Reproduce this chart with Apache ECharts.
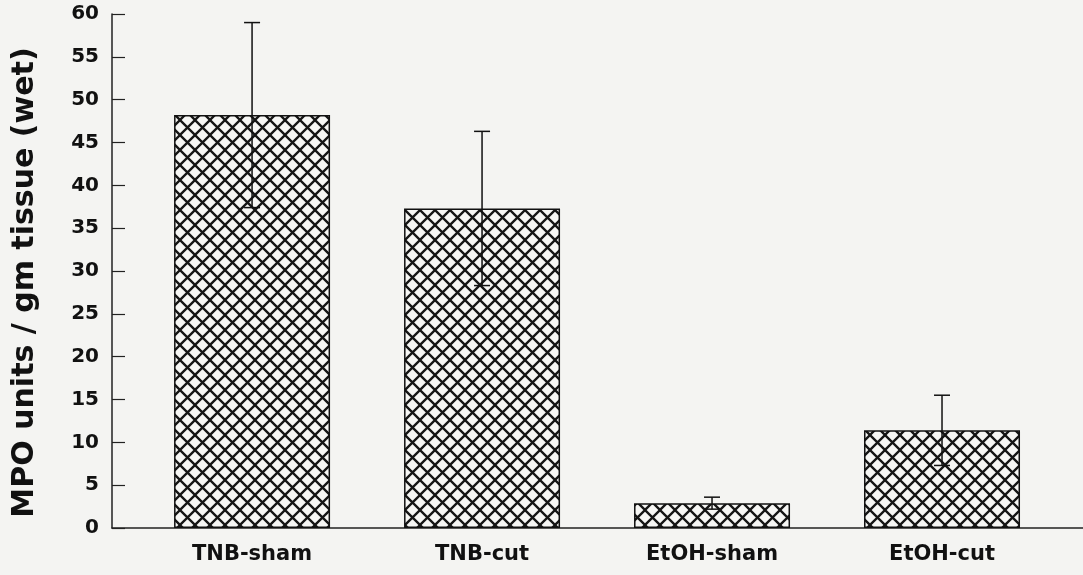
<!DOCTYPE html>
<html>
<head>
<meta charset="utf-8">
<script src="https://cdn.jsdelivr.net/npm/echarts@6/dist/echarts.min.js"></script>
<style>
html,body{margin:0;padding:0;background:#f4f4f2;}
#chart{width:1083px;height:575px;}
</style>
</head>
<body>
<div id="chart"></div>
<script>
const categories = ['TNB-sham', 'TNB-cut', 'EtOH-sham', 'EtOH-cut'];
const means = [48.2, 37.3, 2.9, 11.4];
const errors = [10.8, 9.0, 0.7, 4.1];
const yTicks = [0, 5, 10, 15, 20, 25, 30, 35, 40, 45, 50, 55, 60];

const positions = categories.map((c, i) => i + 1);

function makeHatch() {
  const s = 15;
  const cv = document.createElement('canvas');
  cv.width = s; cv.height = s;
  const ctx = cv.getContext('2d');
  ctx.fillStyle = '#f6f6f4';
  ctx.fillRect(0, 0, s, s);
  ctx.strokeStyle = '#151515';
  ctx.lineWidth = 2.3;
  for (let k = -1; k <= 1; k++) {
    ctx.beginPath();
    ctx.moveTo(k * s, 0); ctx.lineTo(k * s + s, s);
    ctx.moveTo(k * s + s, 0); ctx.lineTo(k * s, s);
    ctx.stroke();
  }
  return cv;
}

const chart = echarts.init(document.getElementById('chart'), null, {renderer: 'canvas'});
const font = 'DejaVu Sans';
chart.setOption({
  backgroundColor: '#f4f4f2',
  animation: false,
  grid: {left: 112, right: 0, top: 14, bottom: 47},
  xAxis: {
    type: 'value',
    min: 0.391,
    max: 4.613,
    splitLine: {show: false},
    axisTick: {show: false},
    axisLine: {show: true, lineStyle: {color: '#222', width: 1.5}},
    axisLabel: {
      customValues: positions,
      formatter: v => categories[Math.round(v) - 1] || '',
      fontFamily: font, fontWeight: 'bold', fontSize: 21, color: '#111',
      margin: 16
    }
  },
  yAxis: {
    type: 'value',
    min: yTicks[0],
    max: yTicks[yTicks.length - 1],
    interval: 5,
    name: 'MPO units / gm tissue (wet)',
    nameLocation: 'middle',
    nameGap: 72,
    nameTextStyle: {fontFamily: font, fontWeight: 'bold', fontSize: 30, color: '#111', padding: [0, 23, 0, 0]},
    splitLine: {show: false},
    axisLine: {show: true, lineStyle: {color: '#222', width: 1.5}},
    axisTick: {show: true, inside: true, length: 13, lineStyle: {color: '#222', width: 1.2}},
    axisLabel: {fontFamily: font, fontWeight: 'bold', fontSize: 20, color: '#111', margin: 13}
  },
  series: [
    {
      type: 'bar',
      data: means.map((v, i) => [positions[i], v]),
      barWidth: 156,
      itemStyle: {
        color: {image: makeHatch(), repeat: 'repeat'},
        borderColor: '#111',
        borderWidth: 1.5
      },
      z: 2
    },
    {
      type: 'custom',
      data: means.map((v, i) => [positions[i], v - errors[i], v + errors[i]]),
      z: 5,
      renderItem: function (params, api) {
        const x = api.value(0);
        const lo = api.coord([x, api.value(1)]);
        const hi = api.coord([x, api.value(2)]);
        const hw = 8;
        const st = {stroke: '#111', lineWidth: 1.5};
        return {
          type: 'group',
          children: [
            {type: 'line', shape: {x1: lo[0], y1: lo[1], x2: hi[0], y2: hi[1]}, style: st},
            {type: 'line', shape: {x1: hi[0] - hw, y1: hi[1], x2: hi[0] + hw, y2: hi[1]}, style: st},
            {type: 'line', shape: {x1: lo[0] - hw, y1: lo[1], x2: lo[0] + hw, y2: lo[1]}, style: st}
          ]
        };
      }
    }
  ]
});
</script>
</body>
</html>
